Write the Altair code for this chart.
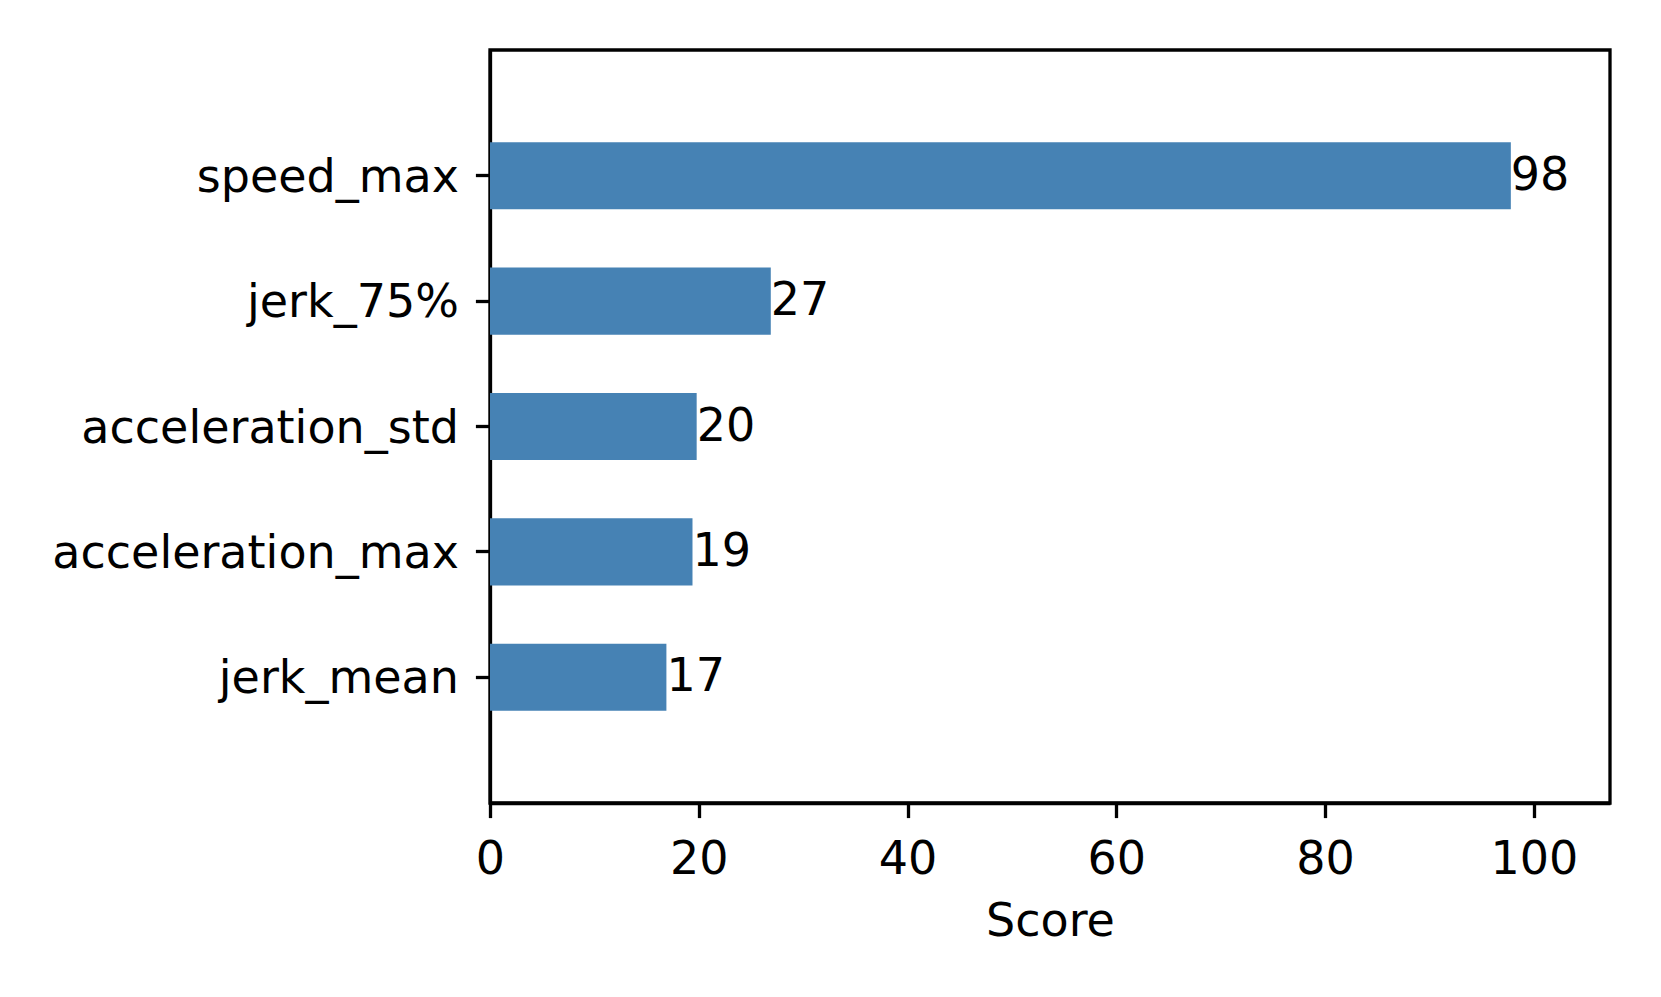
import altair as alt
import pandas as pd

features = ["speed_max", "jerk_75%", "acceleration_std", "acceleration_max", "jerk_mean"]
scores = [97.8, 26.9, 19.8, 19.4, 16.9]
labels = ["98", "27", "20", "19", "17"]

df = pd.DataFrame({"feature": features, "score": scores, "label": labels})

FONT = "DejaVu Sans"
FS = 46

y_enc = alt.Y("feature:N", sort=features, title=None,
              scale=alt.Scale(paddingInner=0.465, paddingOuter=0.735),
              axis=alt.Axis(labelFont=FONT, labelFontSize=FS, labelColor="black",
                            tickSize=14.6, tickWidth=3.3, tickColor="black",
                            domainColor="black", domainWidth=3.3,
                            labelPadding=17, labelOffset=2, grid=False, labelLimit=1000))
x_enc = alt.X("score:Q", title="Score",
              scale=alt.Scale(domain=[0, 107.3], nice=False, zero=True),
              axis=alt.Axis(values=[0, 20, 40, 60, 80, 100], format="d",
                            labelFont=FONT, labelFontSize=FS, labelColor="black",
                            labelFlush=False,
                            titleFont=FONT, titleFontSize=FS, titleFontWeight="normal",
                            titleColor="black", titlePadding=17,
                            tickSize=14.6, tickWidth=3.3, tickColor="black",
                            domainColor="black", domainWidth=3.3,
                            labelPadding=20, grid=False))

bars = alt.Chart(df).mark_bar(color="#4682b4").encode(x=x_enc, y=y_enc)
text = alt.Chart(df).mark_text(align="left", baseline="middle", font=FONT,
                               fontSize=FS, color="black", dx=0).encode(
    x="score:Q", y=alt.Y("feature:N", sort=features), text="label:N")

chart = (bars + text).properties(
    width=1120, height=753,
    autosize=alt.AutoSizeParams(type="none"),
    padding={"left": 482, "top": 42, "right": 40, "bottom": 150},
).configure(background="white").configure_view(stroke="black", strokeWidth=3.3)

chart.save("out.html", embed_options={"renderer": "svg", "actions": False})
